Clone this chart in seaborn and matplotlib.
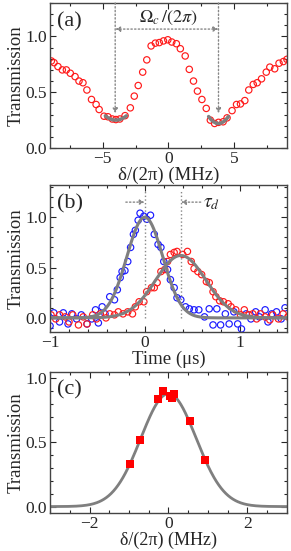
import numpy as np
import matplotlib
matplotlib.use('Agg')
import matplotlib.pyplot as plt
from matplotlib.ticker import MultipleLocator
import seaborn as sns

# ---- (a) transmission spectrum ----
detuning_a = [-8.9, -8.7, -8.4, -8.07, -7.76, -7.46, -7.1, -6.8, -6.5, -6.2,
              -5.85, -5.5, -5.27, -4.9, -4.6, -4.27, -4.0, -3.7, -3.3, -2.9,
              -2.6, -2.3, -1.96, -1.65, -1.32, -1.0, -0.7, -0.38, -0.05, 0.25,
              0.6, 0.9, 1.27, 1.58, 1.9, 2.2, 2.54, 2.87, 3.18, 3.5,
              3.8, 4.15, 4.45, 4.83, 5.17, 5.47, 5.8, 6.1, 6.44, 6.74,
              7.07, 7.43, 7.7, 8.07, 8.4, 8.73, 9.0]
trans_a = [0.78, 0.765, 0.73, 0.70, 0.70, 0.67, 0.64, 0.60, 0.585, 0.52,
           0.435, 0.39, 0.345, 0.285, 0.28, 0.26, 0.255, 0.26, 0.29, 0.36,
           0.465, 0.56, 0.68, 0.79, 0.915, 0.94, 0.945, 0.96, 0.97, 0.95,
           0.935, 0.89, 0.825, 0.705, 0.60, 0.51, 0.435, 0.355, 0.25, 0.22,
           0.23, 0.235, 0.27, 0.335, 0.39, 0.395, 0.425, 0.52, 0.57, 0.585,
           0.62, 0.68, 0.725, 0.71, 0.76, 0.775, 0.795]
# parabola fits at the two minima: centre, minimum, curvature, half span
dip_left = (-4.0, 0.25, 0.06, 0.8)
dip_right = (3.8, 0.22, 0.11, 0.75)

# ---- (b) pulse delay ----
time_blue = [-1.0, -0.96, -0.90, -0.86, -0.81, -0.77, -0.72, -0.67, -0.61, -0.56,
             -0.52, -0.49, -0.45, -0.42, -0.37, -0.32, -0.29, -0.26, -0.24, -0.21,
             -0.18, -0.15, -0.12, -0.10, -0.07, -0.05, -0.01, 0.02, 0.06, 0.10,
             0.14, 0.17, 0.20, 0.24, 0.27, 0.31, 0.34, 0.38, 0.43, 0.47,
             0.52, 0.57, 0.63, 0.68, 0.72, 0.76, 0.80, 0.85, 0.89, 0.94,
             0.98, 1.02, 1.07, 1.12, 1.17, 1.21, 1.27, 1.30, 1.34, 1.39,
             1.44, 1.48]
trans_blue = [-0.08, 0.05, -0.04, 0.05, -0.06, 0.04, -0.01, 0.03, -0.06, -0.01,
              0.08, -0.05, 0.11, 0.04, 0.21, 0.18, 0.28, 0.40, 0.46, 0.47,
              0.56, 0.70, 0.83, 0.87, 0.97, 1.04, 1.01, 0.98, 1.02, 0.83,
              0.73, 0.70, 0.56, 0.48, 0.38, 0.30, 0.20, 0.18, 0.11, 0.09,
              0.08, 0.08, 0.01, 0.09, -0.07, 0.09, -0.07, 0.04, -0.06, 0.06,
              -0.06, -0.11, 0.04, -0.01, 0.06, 0.01, 0.08, -0.04, 0.04, 0.06,
              -0.01, 0.10]
time_red = [-0.99, -0.94, -0.90, -0.84, -0.80, -0.76, -0.70, -0.65, -0.61, -0.55,
            -0.51, -0.47, -0.41, -0.37, -0.32, -0.28, -0.23, -0.18, -0.13, -0.10,
            -0.06, -0.01, 0.02, 0.07, 0.10, 0.13, 0.17, 0.21, 0.24, 0.27,
            0.31, 0.34, 0.40, 0.45, 0.49, 0.52, 0.56, 0.60, 0.65, 0.68,
            0.72, 0.75, 0.79, 0.83, 0.88, 0.91, 0.96, 1.01, 1.05, 1.10,
            1.14, 1.18, 1.22, 1.27, 1.32, 1.35, 1.41, 1.46, 1.51]
trans_red = [0.03, -0.01, 0.03, 0.01, -0.04, 0.03, -0.07, 0.01, -0.06, 0.03,
             -0.01, 0.04, 0.0, 0.04, 0.03, 0.06, 0.04, 0.06, 0.04, 0.11,
             0.16, 0.16, 0.26, 0.30, 0.30, 0.35, 0.46, 0.48, 0.56, 0.63,
             0.65, 0.66, 0.63, 0.66, 0.56, 0.49, 0.46, 0.43, 0.36, 0.35,
             0.26, 0.21, 0.17, 0.16, 0.14, 0.11, 0.08, 0.03, 0.08, 0.03,
             0.04, -0.01, 0.04, 0.01, -0.02, 0.03, -0.01, 0.04, 0.01]
# gaussian fits: amplitude, centre, sigma
fit_blue = (1.0, 0.0, 0.19)
fit_red = (0.62, 0.38, 0.265)
delay = 0.38

# ---- (c) delayed-pulse transmission vs detuning ----
detuning_c = [-0.98, -0.72, -0.27, -0.13, 0.03, 0.085, 0.13, 0.54, 0.93]
trans_c = [0.33, 0.52, 0.835, 0.90, 0.86, 0.85, 0.875, 0.665, 0.36]
fit_c = (0.88, 0.0, 0.70)

sns.set_style('ticks')
plt.rcParams['font.family'] = ['Liberation Serif', 'DejaVu Serif']
plt.rcParams['mathtext.fontset'] = 'stix'
plt.rcParams['axes.linewidth'] = 1.0

fig = plt.figure(figsize=(2.91, 5.51), dpi=100)
ax_a = fig.add_axes([0.172, 0.7314, 0.814, 0.2632])
ax_b = fig.add_axes([0.172, 0.3975, 0.814, 0.2667])
ax_c = fig.add_axes([0.172, 0.0690, 0.814, 0.2560])

red = '#ff1a1a'
blue = '#1a1aff'
gray = '#7f7f7f'
arrow_gray = '#888888'


def gauss(x, p):
    amp, x0, sig = p
    return amp * np.exp(-(x - x0) ** 2 / (2 * sig ** 2))


def dip(p):
    x0, ymin, k, half = p
    xx = np.linspace(x0 - half, x0 + half, 40)
    return xx, ymin + k * (xx - x0) ** 2


def style_axes(ax, xmaj, xmin, ymaj, ymin):
    ax.xaxis.set_major_locator(MultipleLocator(xmaj))
    ax.xaxis.set_minor_locator(MultipleLocator(xmin))
    ax.yaxis.set_major_locator(MultipleLocator(ymaj))
    ax.yaxis.set_minor_locator(MultipleLocator(ymin))
    ax.tick_params(which='both', direction='in', top=True, right=True,
                   labelsize=12.5, width=0.8, pad=2)
    ax.tick_params(which='major', length=4)
    ax.tick_params(which='minor', length=2)
    ax.set_ylabel('Transmission', fontsize=13.5, labelpad=1)
    for s in ax.spines.values():
        s.set_color('#444444')


# (a)
sns.scatterplot(x=detuning_a, y=trans_a, ax=ax_a, marker='o', s=21,
                color=red, facecolor='none', edgecolor=red, linewidth=0.85)
for p in (dip_left, dip_right):
    xx, yy = dip(p)
    sns.lineplot(x=xx, y=yy, ax=ax_a, color=gray, linewidth=2.5)
arrow_kw = dict(arrowstyle='-|>', color=arrow_gray, lw=1.0, ls=':',
                mutation_scale=7, shrinkA=0, shrinkB=0)
for xv, yb in ((-4.05, 0.31), (3.8, 0.31)):
    ax_a.annotate('', xy=(xv, yb), xytext=(xv, 1.3), arrowprops=arrow_kw)
ax_a.annotate('', xy=(-4.05, 1.066), xytext=(3.8, 1.066),
              arrowprops=dict(arrow_kw, arrowstyle='<|-|>'))
ax_a.text(0.0, 1.17, r'$\Omega_c\,/(2\pi)$', ha='center', va='center', fontsize=13)
ax_a.text(0.03, 0.87, '(a)', transform=ax_a.transAxes, fontsize=16, va='center')
ax_a.set_xlim(-9, 9)
ax_a.set_ylim(0, 1.3)
style_axes(ax_a, 5, 2.5, 0.5, 0.1)
ax_a.set_xlabel('δ/(2π) (MHz)', fontsize=13.5, labelpad=0)

# (b)
sns.scatterplot(x=time_blue, y=trans_blue, ax=ax_b, marker='o', s=21,
                color=blue, facecolor='none', edgecolor=blue, linewidth=0.85)
sns.scatterplot(x=time_red, y=trans_red, ax=ax_b, marker='o', s=21,
                color=red, facecolor='none', edgecolor=red, linewidth=0.85)
tt = np.linspace(-1, 1.5, 300)
sns.lineplot(x=tt, y=gauss(tt, fit_blue), ax=ax_b, color=gray, linewidth=2.2)
sns.lineplot(x=tt, y=gauss(tt, fit_red), ax=ax_b, color=gray, linewidth=2.2)
for xv in (0.0, delay):
    ax_b.plot([xv, xv], [-0.0, 1.26], ls=':', color=arrow_gray, lw=1.0)
ax_b.annotate('', xy=(0.0, 1.15), xytext=(-0.2, 1.15), arrowprops=arrow_kw)
ax_b.annotate('', xy=(delay, 1.15), xytext=(0.59, 1.15), arrowprops=arrow_kw)
ax_b.text(0.61, 1.14, r'$\tau_d$', ha='left', va='center', fontsize=14)
ax_b.text(0.03, 0.87, '(b)', transform=ax_b.transAxes, fontsize=16, va='center')
ax_b.set_xlim(-1, 1.5)
ax_b.set_ylim(-0.14, 1.32)
style_axes(ax_b, 1, 0.2, 0.5, 0.1)
ax_b.set_xlabel('Time (μs)', fontsize=13.5, labelpad=0)

# (c)
dd = np.linspace(-3, 3, 300)
sns.lineplot(x=dd, y=gauss(dd, fit_c), ax=ax_c, color=gray, linewidth=2.0)
sns.scatterplot(x=detuning_c, y=trans_c, ax=ax_c, marker='s', s=30,
                color='#ff0000', linewidth=0, zorder=3)
ax_c.text(0.03, 0.87, '(c)', transform=ax_c.transAxes, fontsize=16, va='center')
ax_c.set_xlim(-3, 3)
ax_c.set_ylim(-0.05, 1.05)
style_axes(ax_c, 2, 0.5, 0.5, 0.1)
ax_c.set_xlabel('δ/(2π) (MHz)', fontsize=13, labelpad=0)

fig.savefig('out.png', dpi=100)
